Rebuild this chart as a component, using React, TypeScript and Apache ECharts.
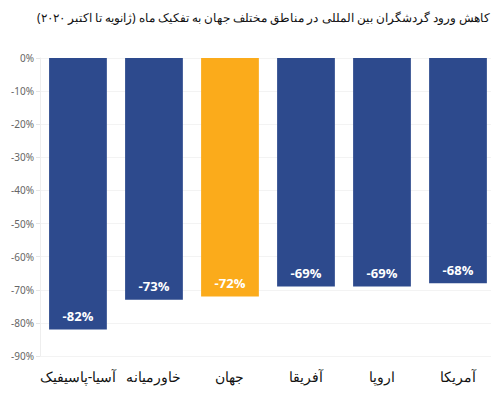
import React, { useEffect, useRef } from "react";
import * as echarts from "echarts";

const titleText = "کاهش ورود گردشگران بین المللی در مناطق مختلف جهان به تفکیک ماه (ژانویه تا اکتبر ۲۰۲۰)";
const categories = ["آسیا-پاسیفیک", "خاورمیانه", "جهان", "آفریقا", "اروپا", "آمریکا"];
const values = [-82, -73, -72, -69, -69, -68];
const highlight = "جهان";

export default function App() {
  const ref = useRef<HTMLDivElement>(null);
  useEffect(() => {
    if (!ref.current) return;
    const chart = echarts.init(ref.current, undefined, { renderer: "svg" });
    chart.setOption({
      animation: false,
      title: {
        text: titleText,
        right: 9,
        top: 1,
        padding: 0,
        textStyle: { fontFamily: "Noto Sans", fontSize: 12, fontWeight: "normal", color: "#111", lineHeight: 16 },
      },
      grid: { left: 30, right: 3, top: 50, bottom: 38 },
      xAxis: {
        type: "category",
        data: categories,
        position: "bottom",
        axisLine: { onZero: false, show: false },
        axisTick: { show: false },
        axisLabel: { color: "#111", fontSize: 14, fontFamily: "Noto Sans", margin: 13, interval: 0 },
      },
      yAxis: {
        type: "value",
        min: -90,
        max: 0,
        interval: 10,
        axisLine: { show: true, lineStyle: { color: "#eeeeee" } },
        axisTick: { show: true, length: 4, lineStyle: { color: "#e6e6e6" } },
        splitLine: { show: true, lineStyle: { color: "#f3f3f3" } },
        axisLabel: {
          color: "#666",
          fontSize: 10,
          fontFamily: "Noto Sans",
          margin: 6,
          formatter: (v: number) => `${v}%`,
        },
      },
      series: [
        {
          type: "bar",
          barCategoryGap: "24%",
          data: values.map((v, i) => ({
            value: v,
            itemStyle: { color: categories[i] === highlight ? "#FBAB1B" : "#2D4A8D" },
          })),
          label: {
            show: true,
            position: "insideBottom",
            distance: 7,
            color: "#fff",
            fontWeight: "bold",
            fontSize: 13,
            fontFamily: "Open Sans",
            formatter: (p: any) => `${p.value}%`,
          },
        },
      ],
    });
    return () => chart.dispose();
  }, []);
  return <div ref={ref} style={{ width: 491, height: 386 }} />;
}
